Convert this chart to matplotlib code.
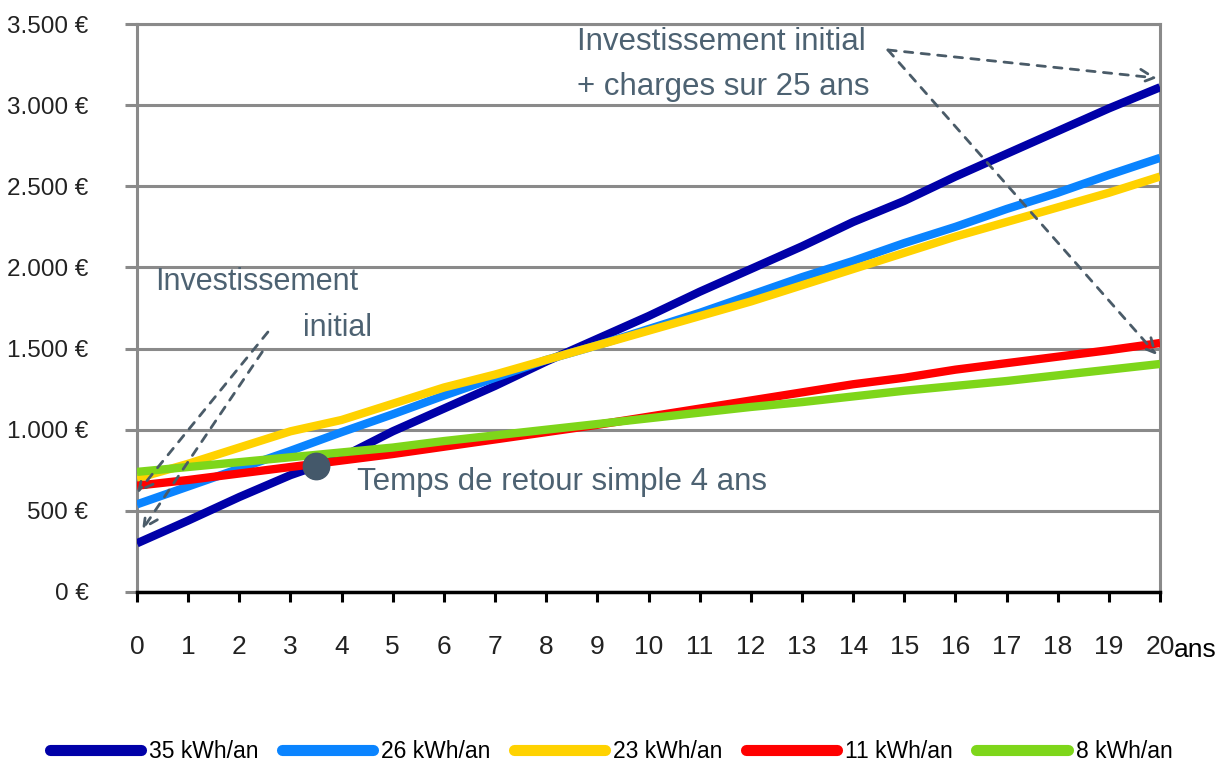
import matplotlib
matplotlib.use('Agg')
import matplotlib.pyplot as plt
from matplotlib import font_manager

# pick a narrow sans if installed
names = {f.name for f in font_manager.fontManager.ttflist}
if 'Liberation Sans Narrow' in names:
    plt.rcParams['font.family'] = ['Liberation Sans Narrow', 'DejaVu Sans']
else:
    plt.rcParams['font.family'] = ['Liberation Sans', 'DejaVu Sans']

years = list(range(21))
ytick_vals = [0, 500, 1000, 1500, 2000, 2500, 3000, 3500]
ytick_labels = ['0 €', '500 €', '1.000 €', '1.500 €', '2.000 €', '2.500 €', '3.000 €', '3.500 €']

series_names = ['35 kWh/an', '26 kWh/an', '23 kWh/an', '11 kWh/an', '8 kWh/an']
colors = ['#0000a8', '#0a84ff', '#ffd200', '#ff0000', '#7ed61a']

kwh35 = [300, 440, 585, 720, 830, 990, 1130, 1270, 1420, 1560, 1700,
         1850, 1990, 2130, 2280, 2410, 2560, 2700, 2840, 2980, 3110]
kwh26 = [540, 650, 760, 870, 985, 1095, 1210, 1320, 1430, 1520, 1620,
         1720, 1830, 1940, 2040, 2150, 2250, 2360, 2460, 2570, 2675]
kwh23 = [700, 790, 890, 990, 1060, 1160, 1260, 1340, 1430, 1520, 1610,
         1700, 1790, 1890, 1990, 2090, 2190, 2280, 2370, 2460, 2560]
kwh11 = [655, 690, 730, 770, 810, 850, 895, 940, 985, 1030, 1080,
         1130, 1180, 1230, 1280, 1320, 1370, 1410, 1450, 1490, 1534]
kwh8 = [740, 770, 800, 830, 860, 890, 930, 965, 1000, 1035, 1070,
        1105, 1140, 1170, 1205, 1240, 1270, 1300, 1335, 1370, 1405]
all_series = [kwh35, kwh26, kwh23, kwh11, kwh8]

payback_x, payback_y = 3.5, 776

txt_col = '#4d6272'
grid_col = '#8a8a8a'

fig = plt.figure(figsize=(12.22, 7.67), dpi=100)
ax = fig.add_axes([0.1121, 0.2282, 0.8372, 0.7405])

for vals, name, c in zip(all_series, series_names, colors):
    ax.plot(years, vals, color=c, lw=6, label=name, solid_capstyle='butt', zorder=3)

ax.plot([payback_x], [payback_y], 'o', ms=19, color='#44586a', zorder=5)

ax.set_xlim(0, 20)
ax.set_ylim(0, 3500)
ax.set_xticks(years)
ax.set_yticks(ytick_vals)
ax.set_yticklabels(ytick_labels)
ax.grid(axis='y', color=grid_col, lw=2.2, zorder=1)

for s in ['left', 'right', 'top']:
    ax.spines[s].set_color(grid_col)
    ax.spines[s].set_linewidth(2.2)
ax.spines['bottom'].set_color('black')
ax.spines['bottom'].set_linewidth(2.5)
ax.spines['bottom'].set_zorder(4)

ax.tick_params(axis='x', direction='out', length=7, width=2.2, color='black',
               pad=24, labelsize=19)
ax.tick_params(axis='y', direction='out', length=9, width=2.2, color=grid_col,
               pad=26, labelsize=17.5)

ax.text(1.014, -0.103, 'ans', transform=ax.transAxes, fontsize=19, ha='left', va='center')

# annotations
ax.text(0.35, 1910, 'Investissement', color=txt_col, fontsize=22, va='center')
ax.text(3.25, 1627, 'initial', color=txt_col, fontsize=22, va='center')
ax.text(8.6, 3389, 'Investissement initial', color=txt_col, fontsize=22.5, va='center')
ax.text(8.6, 3112, '+ charges sur 25 ans', color=txt_col, fontsize=22.5, va='center')
ax.text(4.3, 678, 'Temps de retour simple 4 ans', color=txt_col, fontsize=22.5, va='center')

arrow = dict(arrowstyle='->', linestyle=(0, (3, 3)), color='#4a5b68', lw=2,
             mutation_scale=25, shrinkA=0, shrinkB=0)
ax.annotate('', xy=(0.0, 610), xytext=(2.56, 1602), arrowprops=arrow, zorder=6)
ax.annotate('', xy=(0.1, 382), xytext=(2.45, 1480), arrowprops=arrow, zorder=6)
ax.annotate('', xy=(19.94, 3167), xytext=(14.68, 3340), arrowprops=arrow, zorder=6)
ax.annotate('', xy=(19.94, 1460), xytext=(14.68, 3340), arrowprops=arrow, zorder=6)

for lbl in ax.get_xticklabels() + ax.get_yticklabels():
    lbl.set_color('#222222')

leg = fig.legend(loc='lower center', ncol=5, bbox_to_anchor=(0.5, -0.022), frameon=False,
                 fontsize=16.5, handlelength=4.0, handletextpad=0.35, columnspacing=1.0)
for h in leg.get_lines():
    h.set_linewidth(8)
    h.set_solid_capstyle('round')

fig.savefig('out.png', dpi=100)
